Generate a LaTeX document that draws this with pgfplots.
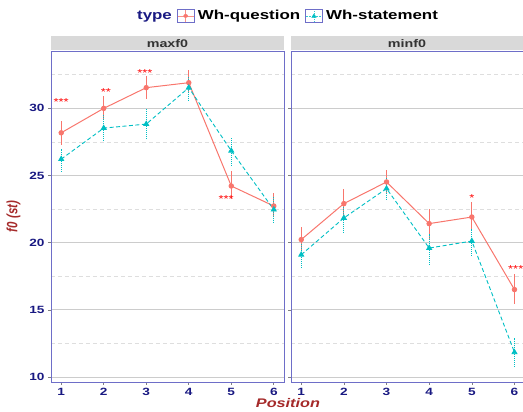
\documentclass[border=0pt]{standalone}
\usepackage{fontspec}
\setmainfont{Liberation Sans}
\newfontfamily\widefont[FakeStretch=1.3]{Liberation Sans}
\usepackage{graphicx}
\usepackage{pgfplots}
\pgfplotsset{compat=1.18}
\definecolor{qred}{HTML}{F8766D}
\definecolor{qcyan}{HTML}{00BFC4}
\definecolor{framecol}{RGB}{110,110,200}
\definecolor{ticknavy}{RGB}{25,25,130}
\definecolor{labbrown}{HTML}{A52A2A}
\definecolor{stripgray}{HTML}{D9D9D9}
\definecolor{gridmaj}{HTML}{CCCCCC}
\definecolor{gridmin}{HTML}{DEDEDE}
\pgfplotsset{panel/.style={
  scale only axis, height=331pt, ymin=9.63, ymax=34.27, xmin=0.76,
  xtick={1,...,6}, ytick={10,15,20,25,30}, minor ytick={12.5,17.5,22.5,27.5,32.5},
  ymajorgrids, yminorgrids,
  major grid style={gridmaj, line width=0.8pt},
  minor grid style={gridmin, dash pattern=on 4pt off 3pt, line width=0.6pt},
  axis line style={framecol, line width=0.8pt},
  tick align=outside, xtick pos=bottom, ytick pos=left,
  major tick length=3pt, minor tick length=0pt, tick style={gray, line width=0.6pt},
  ticklabel style={font=\widefont\bfseries\fontsize{10.5}{12}\selectfont, text=ticknavy},
  /pgf/number format/assume math mode=true,
  clip=false, anchor=south west,
  legend cell align=left,
},
qline/.style={qred, line width=1pt, mark=*, mark size=2.2pt, mark options={solid},
  error bars/y dir=both, error bars/y explicit, error bars/error mark=none,
  error bars/error bar style={qred, line width=1pt, solid}},
cline/.style={qcyan, line width=0.9pt, dash pattern=on 4pt off 2.5pt, mark=triangle*, mark size=2.8pt, mark options={solid},
  error bars/y dir=both, error bars/y explicit, error bars/error mark=none,
  error bars/error bar style={qcyan, line width=1pt, dash pattern=on 1pt off 1pt}},
stars/.style={draw=none, mark=none, nodes near coords, point meta=explicit symbolic,
  every node near coord/.style={anchor=center, text=red, inner sep=0pt, font=\widefont\fontsize{10}{11}\selectfont}},
}
\begin{document}
\begin{tikzpicture}
\useasboundingbox (0,0) rectangle (523pt,412pt);
% ---------- left panel ----------
\begin{axis}[panel, at={(51pt,30pt)}, width=233pt, xmax=6.24,
  ylabel={\scalebox{1}[1.3]{f0 (st)}},
  ylabel style={font=\bfseries\itshape\fontsize{11.5}{13}\selectfont, text=labbrown, yshift=2pt},
  legend style={at={(1.012,1.106)}, anchor=center, draw=none, fill=none,
    legend columns=3, font=\widefont\bfseries\fontsize{13}{15}\selectfont,
    /tikz/every odd column/.style={column sep=1.5pt},
    /tikz/every even column/.style={column sep=3pt}},
  ]
\addlegendimage{empty legend}
\addlegendentry{\textcolor{ticknavy}{type}}
\addlegendimage{legend image code/.code={
  \draw[framecol, line width=0.5pt, fill=white] (0pt,-6.5pt) rectangle (17pt,6.5pt);
  \draw[qred!80, line width=0.7pt] (0.5pt,0pt) -- (16.5pt,0pt) (8.5pt,-6pt) -- (8.5pt,6pt);
  \fill[qred] (8.5pt,0pt) ellipse (2pt and 1.6pt);}}
\addlegendentry{Wh-question}
\addlegendimage{legend image code/.code={
  \draw[framecol, line width=0.5pt, fill=white] (0pt,-6.5pt) rectangle (17pt,6.5pt);
  \draw[qcyan!80, line width=0.7pt, dash pattern=on 2pt off 1.2pt] (0.5pt,0pt) -- (16.5pt,0pt);
  \draw[qcyan!80, line width=0.7pt, dash pattern=on 1pt off 1pt] (8.5pt,-6pt) -- (8.5pt,6pt);
  \fill[qcyan] (8.5pt,2pt) -- (6.3pt,-1.5pt) -- (10.7pt,-1.5pt) -- cycle;}}
\addlegendentry{Wh-statement}
\addplot[forget plot, qline] coordinates {
(1,28.18) += (0,0.89) -= (0,0.92)
(2,30.00) += (0,0.92) -= (0,0.90)
(3,31.54) += (0,0.87) -= (0,0.87)
(4,31.91) += (0,0.95) -= (0,0.79)
(5,24.22) += (0,1.12) -= (0,0.99)
(6,22.73) += (0,1.00) -= (0,0.83)
};
\addplot[forget plot, cline] coordinates {
(1,26.22) += (0,0.78) -= (0,0.95)
(2,28.53) += (0,0.97) -= (0,1.03)
(3,28.83) += (0,1.10) -= (0,1.07)
(4,31.54) += (0,0.82) -= (0,0.92)
(5,26.84) += (0,1.00) -= (0,1.07)
(6,22.46) += (0,0.99) -= (0,1.00)
};
\addplot[forget plot, stars] table[meta=lab] {
x y lab
1.00 30.45 ***
2.05 31.20 **
2.97 32.62 ***
4.88 23.25 ***
};
\node[fill=stripgray, anchor=south, minimum width=233pt, minimum height=14pt, inner sep=0pt,
  font=\widefont\bfseries\fontsize{11}{12}\selectfont, text=black!80] at ([yshift=0.6pt]rel axis cs:0.5,1) {maxf0};
\node[font=\widefont\bfseries\itshape\fontsize{12.5}{14}\selectfont, text=labbrown] at (rel axis cs:1.017,-0.065) {Position};
\end{axis}
% ---------- right panel ----------
\begin{axis}[panel, at={(291pt,30pt)}, width=232pt, xmax=6.2, yticklabels={}]
\addplot[qline] coordinates {
(1,20.23) += (0,0.94) -= (0,0.80)
(2,22.91) += (0,1.12) -= (0,1.12)
(3,24.52) += (0,0.88) -= (0,0.86)
(4,21.42) += (0,1.12) -= (0,1.25)
(5,21.91) += (0,1.12) -= (0,0.87)
(6,16.51) += (0,1.18) -= (0,1.11)
};
\addplot[cline] coordinates {
(1,19.10) += (0,0.83) -= (0,0.97)
(2,21.84) += (0,0.94) -= (0,1.17)
(3,24.03) += (0,0.75) -= (0,0.87)
(4,19.60) += (0,1.07) -= (0,1.30)
(5,20.12) += (0,0.92) -= (0,1.19)
(6,11.84) += (0,1.07) -= (0,1.12)
};
\addplot[stars] table[meta=lab] {
x y lab
5.00 23.35 *
6.03 18.05 ***
};
\node[fill=stripgray, anchor=south, minimum width=232pt, minimum height=14pt, inner sep=0pt,
  font=\widefont\bfseries\fontsize{11}{12}\selectfont, text=black!80] at ([yshift=0.6pt]rel axis cs:0.5,1) {minf0};
\end{axis}
\end{tikzpicture}
\end{document}
